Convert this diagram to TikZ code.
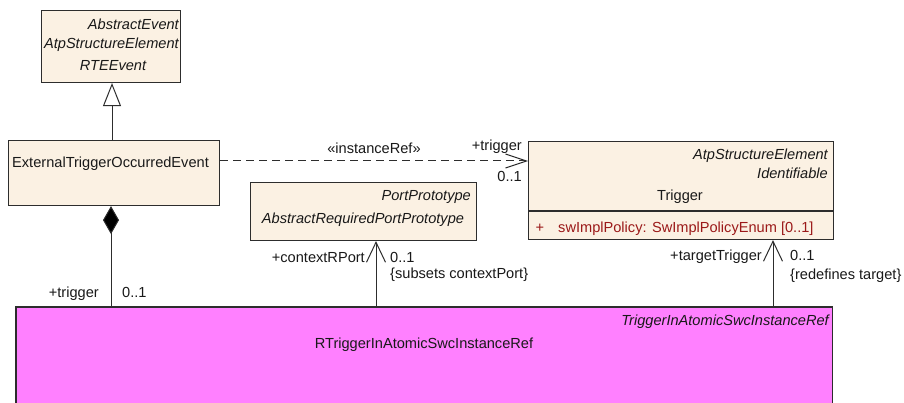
\documentclass[tikz,border=0pt]{standalone}
\usepackage{fontspec}
\setmainfont{Liberation Sans}
\usetikzlibrary{arrows.meta}
\definecolor{beige}{RGB}{251,241,227}
\definecolor{umlpink}{RGB}{255,128,255}
\definecolor{attrred}{RGB}{155,25,25}
\definecolor{edge}{RGB}{45,45,45}
\definecolor{ink}{RGB}{25,25,25}
\begin{document}
\begin{tikzpicture}[x=1pt,y=-1pt,
  every node/.style={inner sep=0pt, text=ink, font=\fontsize{14.6}{17}\selectfont, text height=15pt, text depth=1.5pt},
  classbox/.style={draw=edge, line width=1.1pt, fill=beige, anchor=north west, text height=, text depth=},
  ital/.style={font=\fontsize{14.6}{17}\selectfont\itshape},
  conn/.style={draw=edge, line width=1pt},
  navarrow/.style={conn, -{Straight Barb[length=20pt, width=19pt, line width=1pt]}},
  genarrow/.style={conn, -{Triangle[open, length=23pt, width=18pt, line width=1pt, fill=white]}},
  comparrow/.style={conn, {Diamond[length=28pt, width=16pt, fill=black]}-},
  irefarrow/.style={conn, dash pattern=on 8pt off 5pt, -{Straight Barb[length=21pt, width=14pt, line width=1pt]}}
]
\fill[white] (0,0) rectangle (904,403);
\useasboundingbox (0,0) rectangle (904,403);

% RTEEvent
\node[classbox, minimum width=139pt, minimum height=72pt] (rte) at (41,10) {};
\node[ital, anchor=east] (rteA) at (179,23) {AbstractEvent};
\node[ital, anchor=east] (rteB) at (179,42) {AtpStructureElement};
\node[ital] (rteC) at (113,64) {RTEEvent};

% ExternalTriggerOccurredEvent
\node[classbox, minimum width=211pt, minimum height=65pt] (ext) at (8,140) {};
\node[anchor=west] (extT) at (12,161) {ExternalTriggerOccurredEvent};

% Trigger
\node[classbox, minimum width=305pt, minimum height=98pt] (trg) at (528,141) {};
\draw[draw=edge, line width=1.1pt] (trg.west |- 0,211) -- (trg.east |- 0,211);
\node[ital, anchor=east] (trgA) at (828,153) {AtpStructureElement};
\node[ital, anchor=east] (trgB) at (828,172) {Identifiable};
\node (trgC) at (680,194) {Trigger};
\node[text=attrred] (trgP) at (540,226) {+};
\node[text=attrred, anchor=west] (trgD) at (558,226) {swImplPolicy: SwImplPolicyEnum [0..1]};

% PortPrototype
\node[classbox, minimum width=226pt, minimum height=58pt] (port) at (250,182) {};
\node[ital, anchor=east] (portA) at (471,194) {PortPrototype};
\node[ital] (portB) at (363,217) {AbstractRequiredPortPrototype};

% RTriggerInAtomicSwcInstanceRef
\node[fill=umlpink, anchor=north west, minimum width=816pt, minimum height=110pt, text height=, text depth=] (pink) at (16,307) {};
\draw[draw=edge, line width=1.1pt] (pink.south west) |- (pink.north east) -- (pink.south east);
\node[ital, anchor=east] (pinkA) at (829,319) {TriggerInAtomicSwcInstanceRef};
\node (pinkB) at (424,342) {RTriggerInAtomicSwcInstanceRef};

% generalization
\coordinate (gx) at (112,0);
\draw[genarrow] (gx |- ext.north) -- (gx |- rte.south);

% instanceRef dependency
\coordinate (iy) at (0,161);
\draw[irefarrow] (iy -| ext.east) -- (iy -| trg.west);
\node (iref) at (374,147) {«instanceRef»};
\node[anchor=east] (irefR) at (522,144) {+trigger};
\node[anchor=east] (irefM) at (522,175) {0..1};

% composition
\coordinate (cx) at (111,0);
\draw[comparrow] (cx |- ext.south) -- (cx |- pink.north);
\node[anchor=east] (compR) at (99,291) {+trigger};
\node[anchor=west] (compM) at (122,291) {0..1};

% contextRPort
\coordinate (px) at (376,0);
\draw[navarrow] (px |- pink.north) -- (px |- port.south);
\node[anchor=east] (ctxR) at (365,256) {+contextRPort};
\node[anchor=west] (ctxM) at (390,256) {0..1};
\node[anchor=west] (ctxC) at (390,272) {\{subsets contextPort\}};

% targetTrigger
\coordinate (tx) at (773,0);
\draw[navarrow] (tx |- pink.north) -- (tx |- trg.south);
\node[anchor=east] (tgtR) at (762,254) {+targetTrigger};
\node[anchor=west] (tgtM) at (790,254) {0..1};
\node[anchor=west] (tgtC) at (790,273) {\{redefines target\}};
\end{tikzpicture}
\end{document}
